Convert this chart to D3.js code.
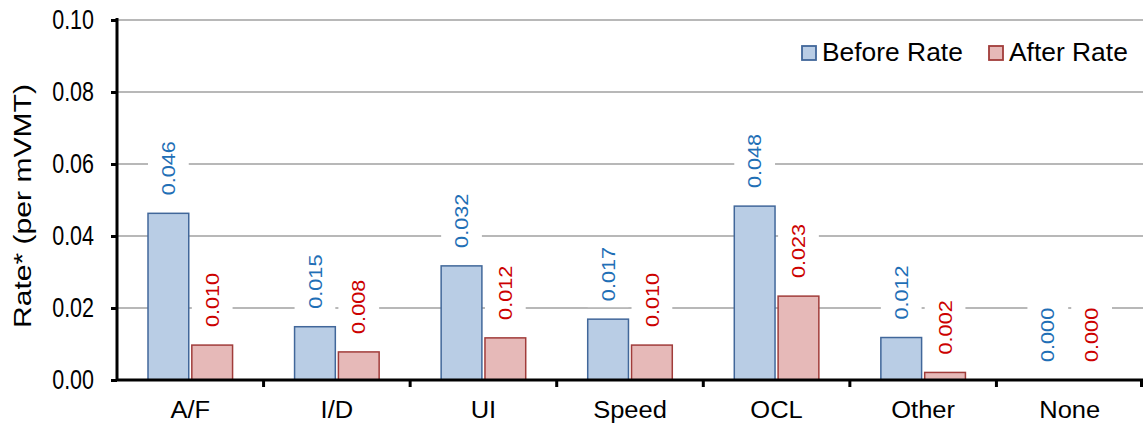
<!DOCTYPE html>
<html><head><meta charset="utf-8">
<script src="https://cdn.jsdelivr.net/npm/d3@7"></script>
<style>
body{margin:0;background:#fff;}
text{font-family:"Liberation Sans",Arial,sans-serif;}
</style></head>
<body><svg id="c" width="1143" height="425"></svg>
<script>
const categories = ["A/F","I/D","UI","Speed","OCL","Other","None"];
const seriesNames = ["Before Rate","After Rate"];
const beforeRate = [0.0463,0.0148,0.0317,0.0169,0.0483,0.0118,0.0];
const afterRate  = [0.0097,0.0078,0.0117,0.0097,0.0233,0.0021,0.0];
const yTicks = [0,0.02,0.04,0.06,0.08,0.10];

const svg = d3.select("#c");
const W=1143,H=425;
const m={l:117,r:0,t:20,b:45};
const x0 = d3.scaleBand().domain(categories).range([m.l,W]).padding(0);
const bw = x0.bandwidth();
const x1 = d3.scaleBand().domain(seriesNames).range([31,bw-31]).paddingInner(0.07);
const y = d3.scaleLinear().domain([0,0.10]).range([H-m.b,m.t]);
const fills = ["#b9cde5","#e6b9b8"], strokes=["#41679a","#a13c3a"], lab=["#1f6fb6","#cc0000"];
const SY = 1.26;

// gridlines
svg.append("g").selectAll("line").data(yTicks.filter(d=>d>0)).join("line")
  .attr("x1",m.l).attr("x2",W).attr("y1",d=>y(d)).attr("y2",d=>y(d))
  .attr("stroke","#a0a0a0").attr("stroke-width",1.6);

const data = categories.map((c,i)=>({c,vals:[beforeRate[i],afterRate[i]]}));
const g = svg.append("g").selectAll("g").data(data).join("g")
  .attr("transform",d=>`translate(${x0(d.c)},0)`);
const items = g.selectAll("g.b").data(d=>d.vals.map((v,k)=>({v,k,s:seriesNames[k]}))).join("g").attr("class","b");
items.filter(d=>d.v>0).append("rect")
  .attr("x",d=>x1(d.s)).attr("width",x1.bandwidth())
  .attr("y",d=>y(d.v)).attr("height",d=>y(0)-y(d.v))
  .attr("fill",d=>fills[d.k]).attr("stroke",d=>strokes[d.k]).attr("stroke-width",1.5);
// label boxes
items.append("rect")
  .attr("x",d=>x1(d.s)).attr("width",x1.bandwidth())
  .attr("y",d=>y(d.v)-78).attr("height",66)
  .attr("fill","#fff");
items.append("text")
  .attr("transform",d=>`translate(${x1(d.s)+x1.bandwidth()/2},${y(d.v)-18}) scale(1,1.14) rotate(-90)`)
  .attr("dy","0.35em").attr("font-size",19).attr("fill",d=>lab[d.k])
  .text(d=>d.v.toFixed(3));

// axes
const ya = svg.append("g").attr("transform",`translate(${m.l},0)`)
  .call(d3.axisLeft(y).tickValues(yTicks).tickFormat("").tickSize(6));
ya.select(".domain").attr("stroke","#000").attr("stroke-width",3).attr("d",`M0,${m.t-2}V${y(0)}`);
ya.selectAll(".tick line").attr("stroke","#000").attr("stroke-width",3);
svg.append("g").selectAll("text").data(yTicks).join("text")
  .attr("transform",d=>`translate(94,${y(d)}) scale(1,${SY})`)
  .attr("text-anchor","end").attr("dy","0.35em").attr("font-size",21.5).attr("fill","#000")
  .text(d3.format(".2f"));

const xa = svg.append("g").attr("transform",`translate(0,${y(0)})`)
  .call(d3.axisBottom(x0).tickSize(0).tickFormat(""));
xa.select(".domain").attr("stroke","#000").attr("stroke-width",3).attr("d",`M${m.l-1},0H${W}`);
xa.selectAll("line.sep").data(categories.slice(1)).join("line").attr("class","sep")
  .attr("x1",d=>x0(d)).attr("x2",d=>x0(d)).attr("y1",0).attr("y2",7)
  .attr("stroke","#000").attr("stroke-width",3);
xa.append("line").attr("x1",W-1.5).attr("x2",W-1.5).attr("y1",0).attr("y2",7).attr("stroke","#000").attr("stroke-width",3);
svg.append("g").selectAll("text").data(categories).join("text")
  .attr("transform",d=>`translate(${x0(d)+bw/2},418) scale(1,0.95)`)
  .attr("text-anchor","middle").attr("font-size",25.5).attr("fill","#000").text(d=>d);

// y title
svg.append("text").attr("transform",`translate(23,${(m.t+y(0))/2+6}) scale(1,1.28) rotate(-90)`)
  .attr("text-anchor","middle").attr("dy","0.35em").attr("font-size",23.5).attr("fill","#000")
  .text("Rate* (per mVMT)");

// legend
const leg = svg.append("g");
const lx=[802,989];
seriesNames.forEach((s,k)=>{
  leg.append("rect").attr("x",lx[k]).attr("y",46).attr("width",14).attr("height",14)
    .attr("fill",fills[k]).attr("stroke",strokes[k]).attr("stroke-width",1.8);
  leg.append("text").attr("x",lx[k]+20).attr("y",60.5).attr("font-size",26.4).attr("fill","#000").text(s);
});
</script></body></html>
